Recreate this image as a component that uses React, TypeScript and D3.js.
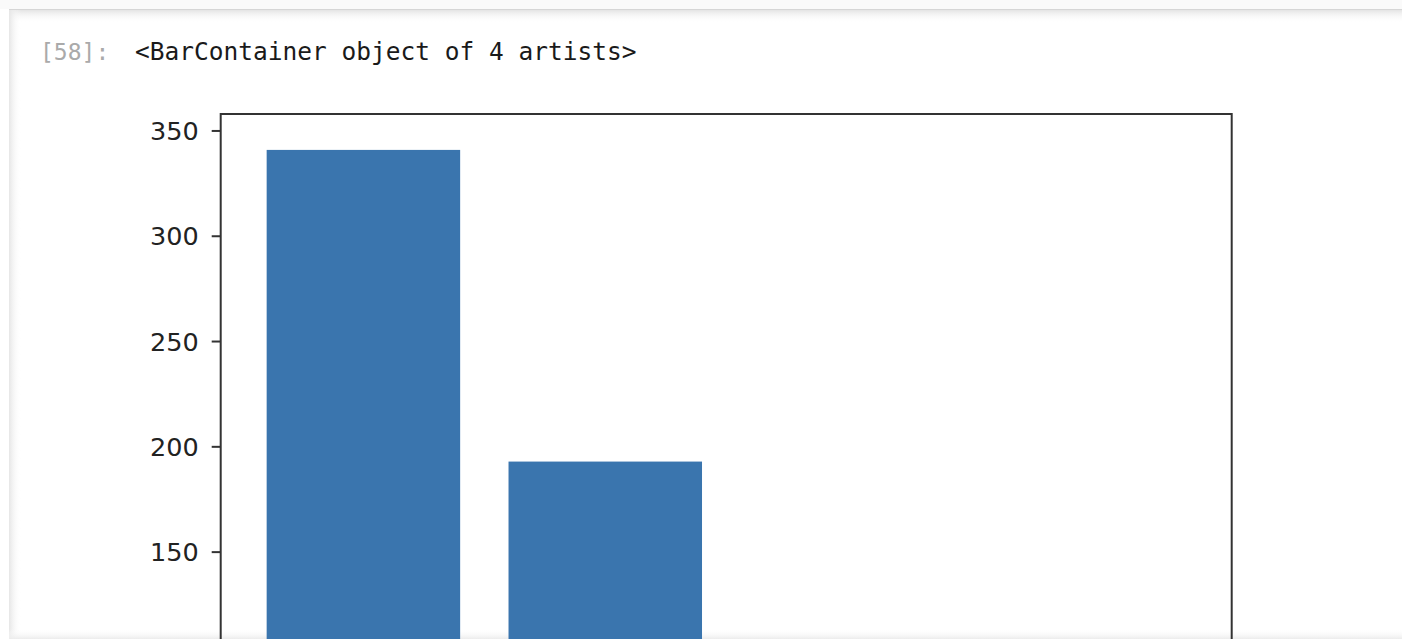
import React from "react";
import * as d3 from "d3";

const categories = ["A", "B", "C", "D"];
const values = [341, 193, 98, 60];
const yTicks = [0, 50, 100, 150, 200, 250, 300, 350];
const promptLabel = "[58]:";
const outputText = "<BarContainer object of 4 artists>";

const W = 1402;
const H = 639;

export default function App() {
  const axLeft = 220.7;
  const axRight = 1231.7;
  const axTop = 114;
  const axBottom = 868;
  const n = categories.length;
  const barW = 0.8;
  const lo = -barW / 2;
  const hi = n - 1 + barW / 2;
  const m = (hi - lo) * 0.05;
  const x = d3.scaleLinear().domain([lo - m, hi + m]).range([axLeft, axRight]);
  const ymax = (d3.max(values) as number) * 1.05;
  const y = d3.scaleLinear().domain([0, ymax]).range([axBottom, axTop]);

  return (
    <svg
      width={W}
      height={H}
      style={{ position: "absolute", left: 0, top: 0, display: "block" }}
    >
      <defs>
        <linearGradient id="topShadow" x1="0" y1="0" x2="0" y2="1">
          <stop offset="0" stopColor="#e4e4e4" />
          <stop offset="1" stopColor="#ffffff" stopOpacity="0" />
        </linearGradient>
        <linearGradient id="leftShadow" x1="0" y1="0" x2="1" y2="0">
          <stop offset="0" stopColor="#e6e6e6" />
          <stop offset="1" stopColor="#ffffff" stopOpacity="0" />
        </linearGradient>
        <linearGradient id="botShadow" x1="0" y1="1" x2="0" y2="0">
          <stop offset="0" stopColor="#ececec" />
          <stop offset="1" stopColor="#ffffff" stopOpacity="0" />
        </linearGradient>
        <clipPath id="plotClip">
          <rect x={0} y={0} width={W} height={H} />
        </clipPath>
      </defs>
      <rect x={0} y={0} width={W} height={H} fill="#ffffff" />
      <rect x={0} y={0} width={W} height={9} fill="#fafafa" />
      <rect x={9} y={9} width={W - 9} height={1} fill="#d6d6d6" />
      <rect x={9} y={10} width={W - 9} height={13} fill="url(#topShadow)" />
      <rect x={9} y={10} width={12} height={H - 10} fill="url(#leftShadow)" />
      <rect x={9} y={629} width={W - 9} height={10} fill="url(#botShadow)" />

      <text
        x={40}
        y={60}
        fontFamily="'DejaVu Sans Mono', monospace"
        fontSize={23}
        fill="#aaaaaa"
      >
        {promptLabel}
      </text>
      <text
        x={135}
        y={60}
        fontFamily="'DejaVu Sans Mono', monospace"
        fontSize={24.5}
        fill="#1a1a1a"
      >
        {outputText}
      </text>

      <g clipPath="url(#plotClip)">
        {values.map((v, i) => (
          <rect
            key={categories[i]}
            x={x(i - barW / 2)}
            y={y(v)}
            width={x(i + barW / 2) - x(i - barW / 2)}
            height={y(0) - y(v)}
            fill="#3a75ae"
          />
        ))}
        <rect
          x={axLeft}
          y={axTop}
          width={axRight - axLeft}
          height={axBottom - axTop}
          fill="none"
          stroke="#333333"
          strokeWidth={2}
        />
        {yTicks.map((t) => (
          <g key={t} transform={`translate(0,${y(t)})`}>
            <line x1={axLeft - 9} x2={axLeft} y1={0} y2={0} stroke="#333333" strokeWidth={2} />
            <text
              x={axLeft - 22}
              y={0}
              dy="0.36em"
              textAnchor="end"
              fontFamily="'DejaVu Sans', sans-serif"
              fontSize={25.5}
              fill="#222222"
            >
              {t}
            </text>
          </g>
        ))}
        {categories.map((c, i) => (
          <g key={c} transform={`translate(${x(i)},${axBottom})`}>
            <line y1={0} y2={9} stroke="#333333" strokeWidth={2} />
            <text y={35} textAnchor="middle" fontFamily="'DejaVu Sans', sans-serif" fontSize={25.5} fill="#222222">
              {c}
            </text>
          </g>
        ))}
      </g>
    </svg>
  );
}
